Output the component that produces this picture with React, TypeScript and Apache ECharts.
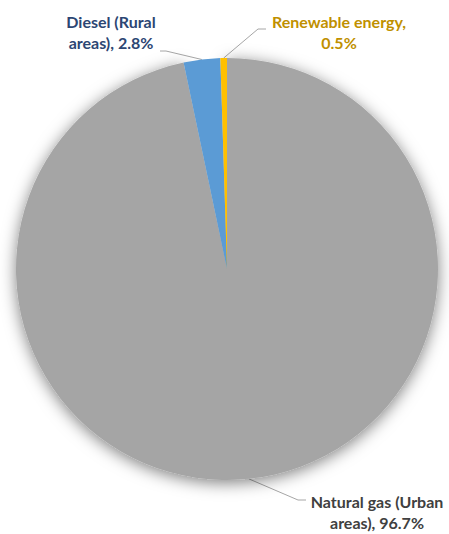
import React, { useEffect, useRef } from "react";
import * as echarts from "echarts";

const categories = ["Natural gas (Urban areas)", "Diesel (Rural areas)", "Renewable energy"];
const shares = [96.7, 2.8, 0.5];
const sliceColors = ["#A5A5A5", "#5B9BD5", "#FFC000"];
const labelColors = ["#404040", "#2C4673", "#BF9000"];

// label layout (pixel positions of label centres and label-line elbows)
const CX = 227;
const CY = 269;
const R = 211;
const labelPos = [
  { x: 377, y: 512, elbow: [298, 500], end: [306, 500] },
  { x: 111, y: 32, elbow: [166, 51], end: [160, 51] },
  { x: 339, y: 32, elbow: [258, 29], end: [266, 29] },
];

function formatLabel(name: string, value: number): string {
  const t = `${name}, ${value.toFixed(1)}%`;
  if (t.indexOf(" areas") >= 0) return t.replace(" areas", "\nareas");
  return t.replace(", ", ",\n");
}

export default function App() {
  const ref = useRef<HTMLDivElement>(null);
  useEffect(() => {
    if (!ref.current) return;
    const chart = echarts.init(ref.current, undefined, { renderer: "svg" });
    const total = shares.reduce((a, b) => a + b, 0);
    const mids: number[] = [];
    let cum = 0;
    shares.forEach((v) => {
      mids.push((cum + v / 2) / total);
      cum += v;
    });
    chart.setOption({
      animation: false,
      backgroundColor: "#ffffff",
      series: [
        {
          type: "pie",
          center: [CX, CY],
          radius: [0, R],
          startAngle: 90,
          clockwise: true,
          avoidLabelOverlap: false,
          data: categories.map((name, i) => ({
            name,
            value: shares[i],
            itemStyle: {
              color: sliceColors[i],
              borderWidth: 0,
              ...(i === 0
                ? { shadowBlur: 16, shadowColor: "rgba(0,0,0,0.5)", shadowOffsetY: 3 }
                : {}),
            },
            label: { color: labelColors[i] },
          })),
          label: {
            show: true,
            position: "outside",
            formatter: (p: any) => formatLabel(p.name, p.value),
            fontFamily: "Lato",
            fontWeight: "bold",
            fontSize: 16,
            lineHeight: 21,
            align: "center",
          },
          labelLine: {
            show: true,
            length: 10,
            length2: 10,
            lineStyle: { color: "#A6A6A6", width: 1 },
          },
          labelLayout: (params: any) => {
            const i = params.dataIndex;
            const lp = labelPos[i];
            const th = mids[i] * Math.PI * 2;
            const p0 = [CX + R * Math.sin(th), CY - R * Math.cos(th)];
            return {
              x: lp.x,
              y: lp.y,
              align: "center",
              verticalAlign: "middle",
              labelLinePoints: [p0, lp.elbow, lp.end],
            };
          },
          emphasis: { disabled: true },
        },
      ],
    });
    return () => chart.dispose();
  }, []);
  return (
    <div
      ref={ref}
      style={{ position: "fixed", left: 0, top: 0, width: 449, height: 534 }}
    />
  );
}
